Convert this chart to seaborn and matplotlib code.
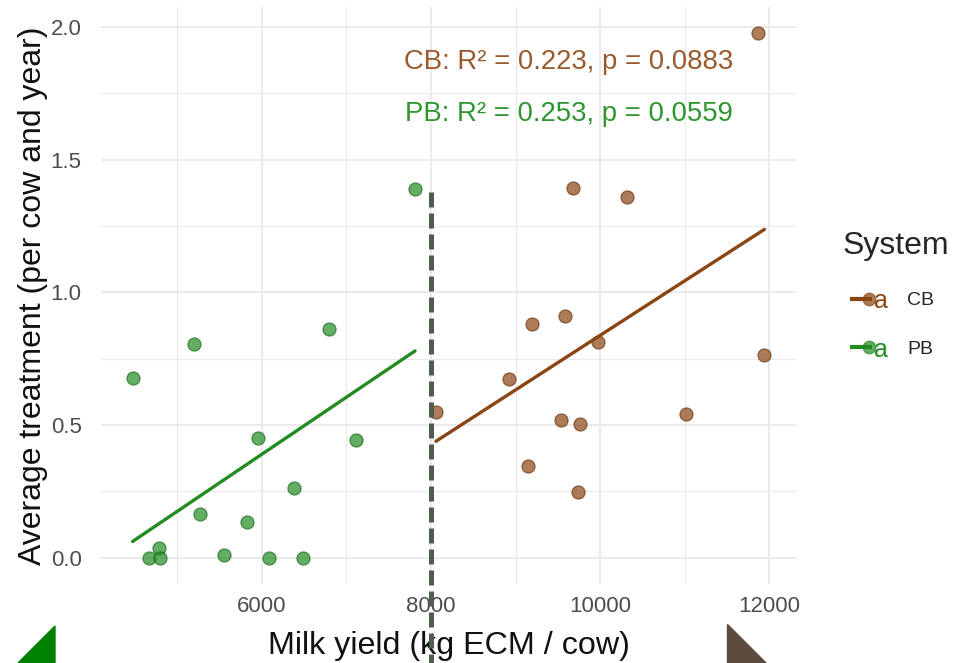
import matplotlib
matplotlib.use("Agg")
import numpy as np
import pandas as pd
import seaborn as sns
import matplotlib.pyplot as plt
from matplotlib.lines import Line2D
from matplotlib.text import Text
from matplotlib.legend_handler import HandlerBase
from matplotlib.patches import Polygon
from matplotlib.ticker import MultipleLocator, FixedLocator

# Milk yield (kg ECM / cow) and average treatments per cow and year
pb_milk = [4470, 5192, 6789, 5956, 7109, 6375, 5263, 5819, 4785, 4666,
           4793, 5550, 6079, 6481, 7811]
pb_treat = [0.676, 0.805, 0.862, 0.451, 0.445, 0.263, 0.164, 0.135, 0.037, 0.0,
            0.0, 0.010, 0.0, 0.0, 1.391]
cb_milk = [9677, 10323, 9195, 9586, 9980, 11944, 8927, 8059, 9538, 9767,
           11014, 9151, 9740, 11870]
cb_treat = [1.394, 1.360, 0.882, 0.910, 0.814, 0.766, 0.672, 0.551, 0.518, 0.504,
            0.541, 0.345, 0.246, 1.977]

systems = ["CB", "PB"]
stats_labels = ["CB: R\u00b2 = 0.223, p = 0.0883", "PB: R\u00b2 = 0.253, p = 0.0559"]
x_ticks = [6000, 8000, 10000, 12000]
y_ticks = [0.0, 0.5, 1.0, 1.5, 2.0]
threshold = 8000
threshold_top = 1.38

line_colors = {"CB": "#8B4513", "PB": "#228B22"}
edge_colors = {"CB": "#6b3510", "PB": "#1a6a1a"}
text_colors = {"CB": "#9A5A2E", "PB": "#2F962F"}

df = pd.DataFrame({
    "milk": pb_milk + cb_milk,
    "treat": pb_treat + cb_treat,
    "System": ["PB"] * len(pb_milk) + ["CB"] * len(cb_milk),
})

sns.set_theme(style="white")
plt.rcParams["font.family"] = ["Liberation Sans", "DejaVu Sans"]

fig = plt.figure(figsize=(9.56, 6.63), dpi=100)
ax = fig.add_axes([101 / 956, 79 / 663, 695 / 956, 577 / 663])

for sysname in ["PB", "CB"]:
    sub = df[df["System"] == sysname]
    sns.regplot(
        data=sub, x="milk", y="treat", ci=None, ax=ax,
        color=line_colors[sysname],
        scatter_kws=dict(s=88, alpha=0.7, edgecolor=edge_colors[sysname],
                         linewidths=0.9, zorder=3),
        line_kws=dict(lw=2.4, zorder=4),
    )

ax.set_xlim(4096, 12318)
ax.set_ylim(-0.099, 2.076)

ax.xaxis.set_major_locator(FixedLocator(x_ticks))
ax.xaxis.set_minor_locator(MultipleLocator(1000))
ax.yaxis.set_major_locator(FixedLocator(y_ticks))
ax.yaxis.set_minor_locator(MultipleLocator(0.25))
ax.set_xticklabels([str(t) for t in x_ticks])
ax.set_yticklabels([f"{t:.1f}" for t in y_ticks])
ax.grid(which="major", color="#EBEBEB", lw=1.5)
ax.grid(which="minor", color="#EBEBEB", lw=0.9)
ax.set_axisbelow(True)
for sp in ax.spines.values():
    sp.set_visible(False)
ax.tick_params(which="both", length=0)
ax.tick_params(axis="x", labelsize=16, colors="#4D4D4D", pad=9)
ax.tick_params(axis="y", labelsize=16, colors="#4D4D4D", pad=14)

ax.set_xlabel("Milk yield (kg ECM / cow)", fontsize=23.2, color="#111111", labelpad=10)
ax.set_ylabel("Average treatment (per cow and year)", fontsize=23, color="#111111", labelpad=2)

# regression statistics
ax.text(9630, 1.868, stats_labels[0], color=text_colors["CB"], fontsize=19.8,
        ha="center", va="center")
ax.text(9630, 1.671, stats_labels[1], color=text_colors["PB"], fontsize=19.8,
        ha="center", va="center")

# vertical threshold line
ax.plot([threshold, threshold], [threshold_top, -0.45], color="#4F5D4F", lw=3.6,
        dashes=(3.0, 1.2), clip_on=False, zorder=6)


class KeyHandler(HandlerBase):
    def create_artists(self, legend, orig_handle, xdescent, ydescent, width,
                       height, fontsize, trans):
        c = orig_handle.get_color()
        mfc = orig_handle.get_markerfacecolor()
        x0 = -xdescent + 5
        y = height / 2 - ydescent
        line = Line2D([x0, x0 + width * 0.58], [y, y], color=c, lw=3,
                      solid_capstyle="butt", transform=trans)
        dot = Line2D([x0 + width * 0.5], [y], marker="o", ms=9, mfc=mfc,
                     mec=mfc, ls="none", transform=trans)
        txt = Text(x0 + width * 0.83, y - 2, "a", color=c, fontsize=18,
                   ha="center", va="center", transform=trans)
        return [line, dot, txt]


handles = []
for s in systems:
    handles.append(Line2D([], [], color=line_colors[s], marker="o",
                          markerfacecolor=(*matplotlib.colors.to_rgb(line_colors[s]), 0.7)))
leg = fig.legend(handles, systems, handler_map={Line2D: KeyHandler()},
                 loc="upper left", bbox_to_anchor=(829 / 956, 1 - 217 / 663),
                 frameon=False, title="System", alignment="left",
                 fontsize=14, title_fontsize=23, handlelength=1.95,
                 handletextpad=1.36, labelspacing=1.6, borderpad=0.2)

# corner markers
fig.patches.append(Polygon([(18 / 956, 0), (55 / 956, 37 / 663), (55 / 956, 0)],
                           closed=True, color="#008000", transform=fig.transFigure))
fig.patches.append(Polygon([(727 / 956, 39 / 663), (727 / 956, 0), (766 / 956, 0)],
                           closed=True, color="#5B4B3C", transform=fig.transFigure))

fig.savefig("out.png", dpi=100)
